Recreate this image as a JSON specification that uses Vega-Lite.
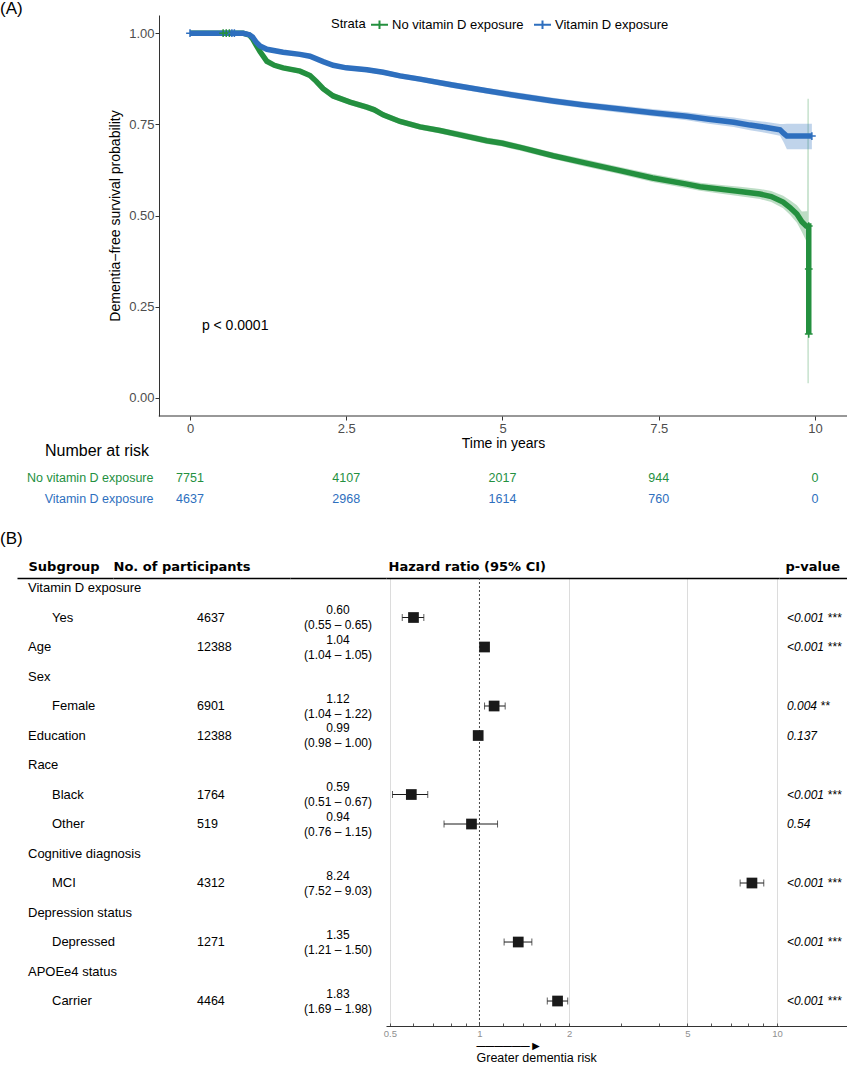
{
  "$schema": "https://vega.github.io/schema/vega-lite/v6.json",
  "padding": 0,
  "background": "white",
  "bounds": "flush",
  "spacing": 51.5,
  "resolve": {"scale": {"color": "independent"}, "legend": {"color": "independent"}},
  "config": {
    "view": {"stroke": null},
    "font": "Liberation Sans",
    "axis": {"labelFont": "Liberation Sans", "titleFont": "Liberation Sans", "domainColor": "#333", "tickColor": "#333", "grid": false, "labelColor": "#4d4d4d", "titleColor": "#000", "titleFontWeight": "normal"},
    "legend": {"labelFont": "Liberation Sans", "titleFont": "Liberation Sans"},
    "title": {"font": "Liberation Sans", "fontWeight": "normal", "color": "#000"}
  },
  "datasets": {
    "km": [
      {"strata": "No vitamin D exposure", "t": 0, "s": 1, "lo": 1, "hi": 1},
      {"strata": "No vitamin D exposure", "t": 0.85, "s": 1, "lo": 0.999, "hi": 1},
      {"strata": "No vitamin D exposure", "t": 0.95, "s": 0.995, "lo": 0.993, "hi": 0.997},
      {"strata": "No vitamin D exposure", "t": 1.0, "s": 0.985, "lo": 0.982, "hi": 0.988},
      {"strata": "No vitamin D exposure", "t": 1.05, "s": 0.97, "lo": 0.966, "hi": 0.974},
      {"strata": "No vitamin D exposure", "t": 1.12, "s": 0.95, "lo": 0.945, "hi": 0.955},
      {"strata": "No vitamin D exposure", "t": 1.23, "s": 0.923, "lo": 0.917, "hi": 0.929},
      {"strata": "No vitamin D exposure", "t": 1.35, "s": 0.912, "lo": 0.906, "hi": 0.918},
      {"strata": "No vitamin D exposure", "t": 1.49, "s": 0.905, "lo": 0.899, "hi": 0.911},
      {"strata": "No vitamin D exposure", "t": 1.76, "s": 0.896, "lo": 0.889, "hi": 0.903},
      {"strata": "No vitamin D exposure", "t": 1.92, "s": 0.884, "lo": 0.877, "hi": 0.891},
      {"strata": "No vitamin D exposure", "t": 2.02, "s": 0.868, "lo": 0.861, "hi": 0.875},
      {"strata": "No vitamin D exposure", "t": 2.13, "s": 0.848, "lo": 0.84, "hi": 0.856},
      {"strata": "No vitamin D exposure", "t": 2.29, "s": 0.828, "lo": 0.82, "hi": 0.836},
      {"strata": "No vitamin D exposure", "t": 2.56, "s": 0.811, "lo": 0.803, "hi": 0.819},
      {"strata": "No vitamin D exposure", "t": 2.83, "s": 0.797, "lo": 0.789, "hi": 0.805},
      {"strata": "No vitamin D exposure", "t": 2.95, "s": 0.79, "lo": 0.782, "hi": 0.798},
      {"strata": "No vitamin D exposure", "t": 3.09, "s": 0.776, "lo": 0.768, "hi": 0.784},
      {"strata": "No vitamin D exposure", "t": 3.36, "s": 0.758, "lo": 0.75, "hi": 0.766},
      {"strata": "No vitamin D exposure", "t": 3.68, "s": 0.743, "lo": 0.735, "hi": 0.751},
      {"strata": "No vitamin D exposure", "t": 4.0, "s": 0.733, "lo": 0.725, "hi": 0.741},
      {"strata": "No vitamin D exposure", "t": 4.3, "s": 0.722, "lo": 0.713, "hi": 0.731},
      {"strata": "No vitamin D exposure", "t": 4.75, "s": 0.705, "lo": 0.696, "hi": 0.714},
      {"strata": "No vitamin D exposure", "t": 5.0, "s": 0.698, "lo": 0.689, "hi": 0.707},
      {"strata": "No vitamin D exposure", "t": 5.3, "s": 0.686, "lo": 0.677, "hi": 0.695},
      {"strata": "No vitamin D exposure", "t": 5.81, "s": 0.664, "lo": 0.655, "hi": 0.673},
      {"strata": "No vitamin D exposure", "t": 6.3, "s": 0.645, "lo": 0.635, "hi": 0.655},
      {"strata": "No vitamin D exposure", "t": 6.88, "s": 0.623, "lo": 0.613, "hi": 0.633},
      {"strata": "No vitamin D exposure", "t": 7.4, "s": 0.603, "lo": 0.592, "hi": 0.614},
      {"strata": "No vitamin D exposure", "t": 7.95, "s": 0.586, "lo": 0.575, "hi": 0.597},
      {"strata": "No vitamin D exposure", "t": 8.16, "s": 0.579, "lo": 0.568, "hi": 0.59},
      {"strata": "No vitamin D exposure", "t": 8.5, "s": 0.572, "lo": 0.56, "hi": 0.584},
      {"strata": "No vitamin D exposure", "t": 8.8, "s": 0.566, "lo": 0.553, "hi": 0.579},
      {"strata": "No vitamin D exposure", "t": 9.12, "s": 0.559, "lo": 0.545, "hi": 0.573},
      {"strata": "No vitamin D exposure", "t": 9.3, "s": 0.552, "lo": 0.537, "hi": 0.567},
      {"strata": "No vitamin D exposure", "t": 9.49, "s": 0.537, "lo": 0.52, "hi": 0.554},
      {"strata": "No vitamin D exposure", "t": 9.6, "s": 0.522, "lo": 0.502, "hi": 0.542},
      {"strata": "No vitamin D exposure", "t": 9.71, "s": 0.504, "lo": 0.48, "hi": 0.528},
      {"strata": "No vitamin D exposure", "t": 9.79, "s": 0.483, "lo": 0.455, "hi": 0.511},
      {"strata": "No vitamin D exposure", "t": 9.86, "s": 0.471, "lo": 0.43, "hi": 0.512},
      {"strata": "No vitamin D exposure", "t": 9.875, "s": 0.471, "lo": 0.43, "hi": 0.512},
      {"strata": "No vitamin D exposure", "t": 9.88, "s": 0.471, "lo": 0.04, "hi": 0.82},
      {"strata": "No vitamin D exposure", "t": 9.9, "s": 0.471, "lo": 0.04, "hi": 0.82},
      {"strata": "No vitamin D exposure", "t": 9.9, "s": 0.353, "lo": 0.04, "hi": 0.82},
      {"strata": "No vitamin D exposure", "t": 9.9, "s": 0.175, "lo": 0.04, "hi": 0.82},
      {"strata": "Vitamin D exposure", "t": 0, "s": 1, "lo": 1, "hi": 1},
      {"strata": "Vitamin D exposure", "t": 0.85, "s": 1, "lo": 0.999, "hi": 1},
      {"strata": "Vitamin D exposure", "t": 0.95, "s": 0.996, "lo": 0.994, "hi": 0.998},
      {"strata": "Vitamin D exposure", "t": 1.0, "s": 0.99, "lo": 0.987, "hi": 0.993},
      {"strata": "Vitamin D exposure", "t": 1.06, "s": 0.975, "lo": 0.971, "hi": 0.979},
      {"strata": "Vitamin D exposure", "t": 1.12, "s": 0.965, "lo": 0.961, "hi": 0.969},
      {"strata": "Vitamin D exposure", "t": 1.23, "s": 0.956, "lo": 0.951, "hi": 0.961},
      {"strata": "Vitamin D exposure", "t": 1.49, "s": 0.948, "lo": 0.943, "hi": 0.953},
      {"strata": "Vitamin D exposure", "t": 1.76, "s": 0.942, "lo": 0.937, "hi": 0.947},
      {"strata": "Vitamin D exposure", "t": 1.92, "s": 0.937, "lo": 0.931, "hi": 0.943},
      {"strata": "Vitamin D exposure", "t": 2.13, "s": 0.922, "lo": 0.916, "hi": 0.928},
      {"strata": "Vitamin D exposure", "t": 2.29, "s": 0.912, "lo": 0.906, "hi": 0.918},
      {"strata": "Vitamin D exposure", "t": 2.5, "s": 0.905, "lo": 0.899, "hi": 0.911},
      {"strata": "Vitamin D exposure", "t": 2.83, "s": 0.9, "lo": 0.893, "hi": 0.907},
      {"strata": "Vitamin D exposure", "t": 3.09, "s": 0.893, "lo": 0.886, "hi": 0.9},
      {"strata": "Vitamin D exposure", "t": 3.36, "s": 0.883, "lo": 0.876, "hi": 0.89},
      {"strata": "Vitamin D exposure", "t": 3.68, "s": 0.874, "lo": 0.867, "hi": 0.881},
      {"strata": "Vitamin D exposure", "t": 4.2, "s": 0.858, "lo": 0.85, "hi": 0.866},
      {"strata": "Vitamin D exposure", "t": 4.75, "s": 0.842, "lo": 0.834, "hi": 0.85},
      {"strata": "Vitamin D exposure", "t": 5.3, "s": 0.827, "lo": 0.818, "hi": 0.836},
      {"strata": "Vitamin D exposure", "t": 5.81, "s": 0.814, "lo": 0.805, "hi": 0.823},
      {"strata": "Vitamin D exposure", "t": 6.3, "s": 0.803, "lo": 0.794, "hi": 0.812},
      {"strata": "Vitamin D exposure", "t": 6.88, "s": 0.792, "lo": 0.782, "hi": 0.802},
      {"strata": "Vitamin D exposure", "t": 7.4, "s": 0.782, "lo": 0.772, "hi": 0.792},
      {"strata": "Vitamin D exposure", "t": 7.95, "s": 0.772, "lo": 0.761, "hi": 0.783},
      {"strata": "Vitamin D exposure", "t": 8.3, "s": 0.764, "lo": 0.752, "hi": 0.776},
      {"strata": "Vitamin D exposure", "t": 8.7, "s": 0.756, "lo": 0.743, "hi": 0.769},
      {"strata": "Vitamin D exposure", "t": 8.96, "s": 0.748, "lo": 0.734, "hi": 0.762},
      {"strata": "Vitamin D exposure", "t": 9.2, "s": 0.742, "lo": 0.727, "hi": 0.757},
      {"strata": "Vitamin D exposure", "t": 9.44, "s": 0.735, "lo": 0.719, "hi": 0.751},
      {"strata": "Vitamin D exposure", "t": 9.5, "s": 0.725, "lo": 0.70, "hi": 0.751},
      {"strata": "Vitamin D exposure", "t": 9.55, "s": 0.718, "lo": 0.682, "hi": 0.752},
      {"strata": "Vitamin D exposure", "t": 9.95, "s": 0.718, "lo": 0.682, "hi": 0.752}
    ],
    "censor": [
      {"strata": "Vitamin D exposure", "t": 0, "s": 1},
      {"strata": "No vitamin D exposure", "t": 0.53, "s": 1},
      {"strata": "No vitamin D exposure", "t": 0.58, "s": 1},
      {"strata": "No vitamin D exposure", "t": 0.63, "s": 1},
      {"strata": "Vitamin D exposure", "t": 0.67, "s": 1},
      {"strata": "Vitamin D exposure", "t": 0.71, "s": 1},
      {"strata": "Vitamin D exposure", "t": 9.95, "s": 0.718},
      {"strata": "No vitamin D exposure", "t": 9.9, "s": 0.471},
      {"strata": "No vitamin D exposure", "t": 9.9, "s": 0.353},
      {"strata": "No vitamin D exposure", "t": 9.9, "s": 0.175}
    ],
    "risk": [
      {"strata": "No vitamin D exposure", "t": 0, "n": "7751"},
      {"strata": "No vitamin D exposure", "t": 2.5, "n": "4107"},
      {"strata": "No vitamin D exposure", "t": 5, "n": "2017"},
      {"strata": "No vitamin D exposure", "t": 7.5, "n": "944"},
      {"strata": "No vitamin D exposure", "t": 10, "n": "0"},
      {"strata": "Vitamin D exposure", "t": 0, "n": "4637"},
      {"strata": "Vitamin D exposure", "t": 2.5, "n": "2968"},
      {"strata": "Vitamin D exposure", "t": 5, "n": "1614"},
      {"strata": "Vitamin D exposure", "t": 7.5, "n": "760"},
      {"strata": "Vitamin D exposure", "t": 10, "n": "0"}
    ],
    "forest": [
      {"key": "g1", "label": "Vitamin D exposure", "indent": false},
      {"key": "yes", "label": "Yes", "indent": true, "n": "4637", "hr": 0.60, "lo": 0.55, "hi": 0.65, "ci": "0.60\n(0.55 – 0.65)", "p": "<0.001 ***"},
      {"key": "age", "label": "Age", "indent": false, "n": "12388", "hr": 1.04, "lo": 1.04, "hi": 1.05, "ci": "1.04\n(1.04 – 1.05)", "p": "<0.001 ***"},
      {"key": "g2", "label": "Sex", "indent": false},
      {"key": "female", "label": "Female", "indent": true, "n": "6901", "hr": 1.12, "lo": 1.04, "hi": 1.22, "ci": "1.12\n(1.04 – 1.22)", "p": "0.004 **"},
      {"key": "edu", "label": "Education", "indent": false, "n": "12388", "hr": 0.99, "lo": 0.98, "hi": 1.00, "ci": "0.99\n(0.98 – 1.00)", "p": "0.137"},
      {"key": "g3", "label": "Race", "indent": false},
      {"key": "black", "label": "Black", "indent": true, "n": "1764", "hr": 0.59, "lo": 0.51, "hi": 0.67, "ci": "0.59\n(0.51 – 0.67)", "p": "<0.001 ***"},
      {"key": "other", "label": "Other", "indent": true, "n": "519", "hr": 0.94, "lo": 0.76, "hi": 1.15, "ci": "0.94\n(0.76 – 1.15)", "p": "0.54"},
      {"key": "g4", "label": "Cognitive diagnosis", "indent": false},
      {"key": "mci", "label": "MCI", "indent": true, "n": "4312", "hr": 8.24, "lo": 7.52, "hi": 9.03, "ci": "8.24\n(7.52 – 9.03)", "p": "<0.001 ***"},
      {"key": "g5", "label": "Depression status", "indent": false},
      {"key": "dep", "label": "Depressed", "indent": true, "n": "1271", "hr": 1.35, "lo": 1.21, "hi": 1.50, "ci": "1.35\n(1.21 – 1.50)", "p": "<0.001 ***"},
      {"key": "g6", "label": "APOEe4 status", "indent": false},
      {"key": "carrier", "label": "Carrier", "indent": true, "n": "4464", "hr": 1.83, "lo": 1.69, "hi": 1.98, "ci": "1.83\n(1.69 – 1.98)", "p": "<0.001 ***"}
    ]
  },
  "vconcat": [
    {
      "title": {"text": "(A)", "anchor": "start", "frame": "group", "dx": -17, "fontSize": 17, "offset": -3},
      "width": 830,
      "height": 401,
      "layer": [
        {
          "data": {"name": "km"},
          "mark": {"type": "area", "opacity": 0.3},
          "encoding": {
            "x": {"field": "t", "type": "quantitative", "title": "Time in years",
              "scale": {"domain": [-2.768, 10.512], "nice": false, "zero": false},
              "axis": {"values": [0, 2.5, 5, 7.5, 10], "domain": false, "tickSize": 4, "labelFontSize": 13, "labelPadding": 2, "format": "~g", "titleFontSize": 14, "titleX": 486, "titleY": 20, "titleBaseline": "top", "labelColor": "#4d4d4d"}},
            "y": {"field": "lo", "type": "quantitative", "title": "Dementia−free survival probability",
              "scale": {"domain": [-0.05, 1.05], "nice": false, "zero": false},
              "axis": {"offset": -142, "values": [0, 0.25, 0.5, 0.75, 1], "format": ".2f", "tickSize": 4, "labelFontSize": 13, "labelPadding": 1, "titleFontSize": 14, "titlePadding": 6, "domain": true, "domainColor": "#333", "labelColor": "#4d4d4d"}},
            "y2": {"field": "hi"},
            "color": {"field": "strata", "type": "nominal",
              "scale": {"domain": ["No vitamin D exposure", "Vitamin D exposure"], "range": ["#24903f", "#2e6fbe"]},
              "legend": {"orient": "none", "legendX": 314, "legendY": 0, "direction": "horizontal", "title": "Strata", "titleOrient": "left", "titleFontSize": 13, "titleFontWeight": "normal", "titleColor": "#000", "titlePadding": 4, "titleBaseline": "middle", "labelFontSize": 13, "labelColor": "#000", "labelOffset": 3, "columnPadding": 6, "symbolType": "M-1,0H1M0,-0.5V0.5", "symbolSize": 289, "symbolStrokeWidth": 2, "symbolOpacity": 1, "padding": 0,
                "encode": {"symbols": {"update": {
                  "fill": {"value": "transparent"},
                  "stroke": {"signal": "datum.value === 'No vitamin D exposure' ? '#24903f' : '#2e6fbe'"},
                  "strokeWidth": {"value": 2},
                  "opacity": {"value": 1},
                  "fillOpacity": {"value": 1},
                  "strokeOpacity": {"value": 1}}}}}}
          }
        },
        {
          "data": {"name": "km"},
          "mark": {"type": "line", "strokeWidth": 5.5},
          "encoding": {
            "x": {"field": "t", "type": "quantitative", "title": "Time in years"},
            "y": {"field": "s", "type": "quantitative", "title": "Dementia−free survival probability"},
            "color": {"field": "strata", "type": "nominal"}
          }
        },
        {
          "data": {"name": "censor"},
          "mark": {"type": "point", "shape": "M-1,0H1M0,-1V1", "size": 60, "strokeWidth": 1.5, "filled": false, "opacity": 1},
          "encoding": {
            "x": {"field": "t", "type": "quantitative", "title": "Time in years"},
            "y": {"field": "s", "type": "quantitative", "title": "Dementia−free survival probability"},
            "color": {"field": "strata", "type": "nominal"}
          }
        },
        {
          "data": {"values": [{"t": -0.5, "t2": 10.512, "s": -0.05}]},
          "mark": {"type": "rule", "color": "#333", "strokeWidth": 1.1},
          "encoding": {
            "x": {"field": "t", "type": "quantitative", "title": "Time in years"},
            "x2": {"field": "t2"},
            "y": {"field": "s", "type": "quantitative", "title": "Dementia−free survival probability"}
          }
        },
        {
          "data": {"values": [{"t": 0.19, "s": 0.197, "label": "p < 0.0001"}]},
          "mark": {"type": "text", "align": "left", "baseline": "middle", "fontSize": 14, "color": "#000"},
          "encoding": {
            "x": {"field": "t", "type": "quantitative", "title": "Time in years"},
            "y": {"field": "s", "type": "quantitative", "title": "Dementia−free survival probability"},
            "text": {"field": "label"}
          }
        }
      ]
    },
    {
      "title": {"text": "Number at risk", "anchor": "start", "frame": "group", "dx": 28, "fontSize": 16, "offset": 9},
      "width": 830,
      "height": 59,
      "data": {"name": "risk"},
      "mark": {"type": "text", "fontSize": 12.5, "baseline": "middle"},
      "encoding": {
        "x": {"field": "t", "type": "quantitative", "scale": {"domain": [-2.768, 10.512], "nice": false, "zero": false}, "axis": null},
        "y": {"field": "strata", "type": "nominal", "sort": ["No vitamin D exposure", "Vitamin D exposure"],
          "scale": {"type": "band", "paddingInner": 0, "paddingOuter": 0.405, "align": 0},
          "axis": {"offset": -142, "domain": false, "ticks": false, "labelPadding": 6, "labelFontSize": 12.5, "title": null,
            "labelColor": {"condition": {"test": "datum.value === 'No vitamin D exposure'", "value": "#24903f"}, "value": "#2e6fbe"}}},
        "text": {"field": "n", "type": "nominal"},
        "color": {"condition": {"test": "datum.strata === 'No vitamin D exposure'", "value": "#24903f"}, "value": "#2e6fbe"}
      }
    },
    {
      "title": {"text": "(B)", "anchor": "start", "frame": "group", "dx": -17, "fontSize": 17, "offset": 12},
      "bounds": "flush",
      "spacing": 0,
      "hconcat": [
        {
          "width": 96,
          "height": 448,
          "data": {"name": "forest"},
          "encoding": {
            "x": {"datum": 0, "type": "quantitative", "scale": {"domain": [0, 1]},
              "axis": {"orient": "top", "domain": true, "domainColor": "#000", "domainWidth": 1.5, "ticks": false, "labels": false, "grid": false, "title": "Subgroup", "titleFont": "DejaVu Sans", "titleFontWeight": "bold", "titleFontSize": 13, "titleColor": "#000", "titleAlign": "left", "titleBaseline": "middle", "titleX": 11, "titleY": -12}},
            "y": {"field": "key", "type": "nominal", "sort": null,
              "scale": {"type": "point", "domain": ["g1", "yes", "age", "g2", "female", "edu", "g3", "black", "other", "g4", "mci", "g5", "dep", "g6", "carrier"], "padding": 0.593, "align": 0.286},
              "axis": null}
          },
          "layer": [
            {"transform": [{"filter": "!datum.indent"}], "mark": {"type": "text", "align": "left", "baseline": "middle", "dx": 11, "fontSize": 13, "color": "#000"}, "encoding": {"text": {"field": "label"}}},
            {"transform": [{"filter": "datum.indent"}], "mark": {"type": "text", "align": "left", "baseline": "middle", "dx": 35, "fontSize": 13, "color": "#000"}, "encoding": {"text": {"field": "label"}}}
          ]
        },
        {
          "width": 177,
          "height": 448,
          "data": {"name": "forest"},
          "transform": [{"filter": "isValid(datum.n)"}],
          "mark": {"type": "text", "align": "left", "baseline": "middle", "dx": 84, "fontSize": 12.5, "color": "#000"},
          "encoding": {
            "x": {"datum": 0, "type": "quantitative", "scale": {"domain": [0, 1]},
              "axis": {"orient": "top", "domain": true, "domainColor": "#000", "domainWidth": 1.5, "ticks": false, "labels": false, "grid": false, "title": "No. of participants", "titleFont": "DejaVu Sans", "titleFontWeight": "bold", "titleFontSize": 13, "titleColor": "#000", "titleAlign": "left", "titleBaseline": "middle", "titleX": 0, "titleY": -12}},
            "y": {"field": "key", "type": "nominal", "sort": null,
              "scale": {"type": "point", "domain": ["g1", "yes", "age", "g2", "female", "edu", "g3", "black", "other", "g4", "mci", "g5", "dep", "g6", "carrier"], "padding": 0.593, "align": 0.286},
              "axis": null},
            "text": {"field": "n"}
          }
        },
        {
          "width": 96,
          "height": 448,
          "data": {"name": "forest"},
          "transform": [{"filter": "isValid(datum.ci)"}],
          "mark": {"type": "text", "align": "center", "baseline": "middle", "lineBreak": "\n", "lineHeight": 15, "dy": -7.5, "fontSize": 12, "color": "#000"},
          "encoding": {
            "x": {"datum": 0.5, "type": "quantitative", "scale": {"domain": [0, 1]},
              "axis": {"orient": "top", "domain": true, "domainColor": "#000", "domainWidth": 1.5, "ticks": false, "labels": false, "grid": false, "title": null}},
            "y": {"field": "key", "type": "nominal", "sort": null,
              "scale": {"type": "point", "domain": ["g1", "yes", "age", "g2", "female", "edu", "g3", "black", "other", "g4", "mci", "g5", "dep", "g6", "carrier"], "padding": 0.593, "align": 0.286},
              "axis": null},
            "text": {"field": "ci"}
          }
        },
        {
          "width": 393,
          "height": 448,
          "resolve": {"axis": {"x": "independent"}},
          "layer": [
            {
              "data": {"values": [{"v": 1}]},
              "mark": {"type": "rule", "strokeDash": [2, 2], "color": "#333", "strokeWidth": 0.9},
              "encoding": {
                "x": {"field": "v", "type": "quantitative", "scale": {"type": "log", "domain": [0.485, 10.16], "nice": false},
                  "axis": {"orient": "top", "domain": true, "domainColor": "#000", "domainWidth": 1.5, "ticks": false, "labels": false, "grid": false, "title": "Hazard ratio (95% CI)", "titleFont": "DejaVu Sans", "titleFontWeight": "bold", "titleFontSize": 13, "titleColor": "#000", "titleAlign": "left", "titleBaseline": "middle", "titleX": 2, "titleY": -12}}
              }
            },
            {
              "data": {"name": "forest"},
              "transform": [{"filter": "isValid(datum.hr)"}],
              "mark": {"type": "rule", "color": "#1a1a1a", "strokeWidth": 1},
              "encoding": {
                "x": {"field": "lo", "type": "quantitative",
                  "axis": {"orient": "bottom", "values": [0.5, 0.6, 0.7, 0.8, 0.9, 1, 1.2, 1.4, 1.6, 1.8, 2, 3, 4, 5, 6, 7, 8, 9, 10],
                    "labelExpr": "indexof([0.5, 1, 2, 5, 10], datum.value) >= 0 ? format(datum.value, '~g') : ''",
                    "grid": true, "gridColor": {"condition": {"test": "indexof([0.5, 2, 5, 10], datum.value) >= 0", "value": "#dcdcdc"}, "value": "transparent"},
                    "tickSize": -3, "tickColor": "#555", "domainColor": "#333", "domainWidth": 1.2, "labelFontSize": 9.5, "labelColor": "#8f8f8f", "labelPadding": 5, "labelOverlap": false, "labelFlush": false,
                    "title": ["──────►", "Greater dementia risk"], "titleFont": "Liberation Sans, DejaVu Sans", "titleFontSize": 12.5, "titleLineHeight": 12.5, "titleAlign": "left", "titleBaseline": "top", "titleX": 90, "titleY": 13, "titleColor": "#000"}},
                "x2": {"field": "hi"},
                "y": {"field": "key", "type": "nominal", "sort": null,
                  "scale": {"type": "point", "domain": ["g1", "yes", "age", "g2", "female", "edu", "g3", "black", "other", "g4", "mci", "g5", "dep", "g6", "carrier"], "padding": 0.593, "align": 0.286},
                  "axis": null}
              }
            },
            {
              "data": {"name": "forest"},
              "transform": [{"filter": "isValid(datum.hr)"}],
              "mark": {"type": "tick", "orient": "vertical", "size": 7, "thickness": 1, "color": "#1a1a1a"},
              "encoding": {
                "x": {"field": "lo", "type": "quantitative", "axis": null},
                "y": {"field": "key", "type": "nominal", "sort": null, "axis": null}
              }
            },
            {
              "data": {"name": "forest"},
              "transform": [{"filter": "isValid(datum.hr)"}],
              "mark": {"type": "tick", "orient": "vertical", "size": 7, "thickness": 1, "color": "#1a1a1a"},
              "encoding": {
                "x": {"field": "hi", "type": "quantitative", "axis": null},
                "y": {"field": "key", "type": "nominal", "sort": null, "axis": null}
              }
            },
            {
              "data": {"name": "forest"},
              "transform": [{"filter": "isValid(datum.hr)"}],
              "mark": {"type": "point", "shape": "square", "filled": true, "size": 115, "color": "#1a1a1a", "opacity": 1},
              "encoding": {
                "x": {"field": "hr", "type": "quantitative", "axis": null},
                "y": {"field": "key", "type": "nominal", "sort": null, "axis": null}
              }
            }
          ]
        },
        {
          "width": 68,
          "height": 448,
          "resolve": {"axis": {"x": "independent"}},
          "layer": [
            {
              "data": {"name": "forest"},
              "transform": [{"filter": "isValid(datum.p)"}],
              "mark": {"type": "text", "align": "left", "baseline": "middle", "dx": 8, "fontSize": 12, "fontStyle": "italic", "color": "#000"},
              "encoding": {
                "x": {"datum": 0, "type": "quantitative", "scale": {"domain": [0, 1]},
                  "axis": {"orient": "top", "domain": true, "domainColor": "#000", "domainWidth": 1.5, "ticks": false, "labels": false, "grid": false, "title": "p-value", "titleFont": "DejaVu Sans", "titleFontWeight": "bold", "titleFontSize": 13, "titleColor": "#000", "titleAlign": "left", "titleBaseline": "middle", "titleX": 6, "titleY": -12}},
                "y": {"field": "key", "type": "nominal", "sort": null,
                  "scale": {"type": "point", "domain": ["g1", "yes", "age", "g2", "female", "edu", "g3", "black", "other", "g4", "mci", "g5", "dep", "g6", "carrier"], "padding": 0.593, "align": 0.286},
                  "axis": null},
                "text": {"field": "p"}
              }
            },
            {
              "data": {"values": [{"v": 0}]},
              "mark": {"type": "rule", "opacity": 0},
              "encoding": {
                "x": {"field": "v", "type": "quantitative",
                  "axis": {"orient": "bottom", "domain": true, "domainColor": "#333", "domainWidth": 1.2, "ticks": false, "labels": false, "grid": false, "title": null}}
              }
            }
          ]
        }
      ]
    }
  ]
}
